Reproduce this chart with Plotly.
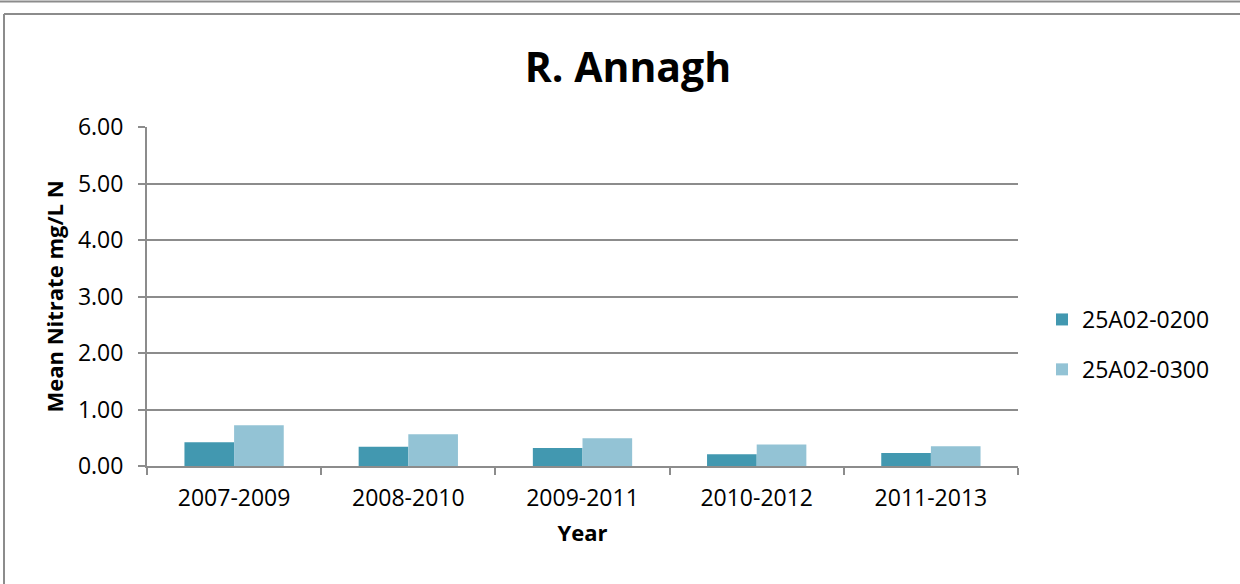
import plotly.graph_objects as go

categories = ["2007-2009", "2008-2010", "2009-2011", "2010-2012", "2011-2013"]
series_0200 = [0.42, 0.34, 0.32, 0.21, 0.23]
series_0300 = [0.72, 0.56, 0.49, 0.38, 0.35]
y_ticks = [0, 1, 2, 3, 4, 5, 6]
y_tick_labels = ["0.00", "1.00", "2.00", "3.00", "4.00", "5.00", "6.00"]

W, H = 1240, 584
L, R, T, B = 147, 1018, 127, 466

def px_x(p):
    return (p - L) / (R - L)

def px_y(p):
    return (B - p) / (B - T)

font_family = "Open Sans, Liberation Sans, sans-serif"
grid_col = "#8c8c8c"

fig = go.Figure()
fig.add_trace(go.Bar(x=categories, y=series_0200, name="25A02-0200",
                     marker=dict(color="#4298B0", line=dict(width=0)),
                     legendgroup="a"))
fig.add_trace(go.Bar(x=categories, y=series_0300, name="25A02-0300",
                     marker=dict(color="#93C3D5", line=dict(width=0)),
                     legendgroup="b"))

fig.update_layout(
    width=W, height=H,
    margin=dict(l=L, r=W - R, t=T, b=H - B, pad=0),
    paper_bgcolor="white", plot_bgcolor="white",
    font=dict(family=font_family, size=23, color="black"),
    barmode="group", bargap=0.43, bargroupgap=0,
    title=dict(text="<b>R. Annagh</b>", font=dict(size=41, family=font_family),
               xref="container", yref="container",
               x=628 / W, xanchor="center",
               y=1 - 68 / H, yanchor="middle"),
    xaxis=dict(
        title=dict(text="<b>Year</b>", font=dict(size=22), standoff=14),
        showline=True, linecolor=grid_col, linewidth=2,
        ticks="outside", tickson="boundaries", ticklen=7, tickcolor=grid_col, tickwidth=2,
        ticklabelstandoff=10,
        showgrid=False, tickfont=dict(size=23),
    ),
    yaxis=dict(
        title=dict(text="<b>Mean Nitrate mg/L N</b>", font=dict(size=22), standoff=8),
        range=[0, 6], tickvals=y_ticks, ticktext=y_tick_labels,
        showline=True, linecolor=grid_col, linewidth=2,
        ticks="outside", ticklen=7, tickcolor=grid_col, tickwidth=2,
        ticklabelstandoff=10,
        showgrid=True, gridcolor=grid_col, gridwidth=2,
        zeroline=False, tickfont=dict(size=23),
    ),
    legend=dict(x=px_x(1042), y=px_y(298), xanchor="left", yanchor="top",
                font=dict(size=23), traceorder="grouped", tracegroupgap=17,
                itemwidth=30, bgcolor="rgba(0,0,0,0)"),
    shapes=[
        dict(type="line", xref="paper", yref="paper", x0=px_x(0), x1=px_x(W),
             y0=px_y(1.5), y1=px_y(1.5), line=dict(color="#8c8c8c", width=2)),
        dict(type="line", xref="paper", yref="paper", x0=px_x(4), x1=px_x(W),
             y0=px_y(14), y1=px_y(14), line=dict(color="#8c8c8c", width=2)),
        dict(type="line", xref="paper", yref="paper", x0=px_x(4), x1=px_x(4),
             y0=px_y(14), y1=px_y(H), line=dict(color="#8c8c8c", width=2)),
    ],
)

fig.write_html(
    "out.html",
    config={"displayModeBar": False},
    post_script="document.body.style.margin='0';document.body.style.overflow='hidden';",
)
